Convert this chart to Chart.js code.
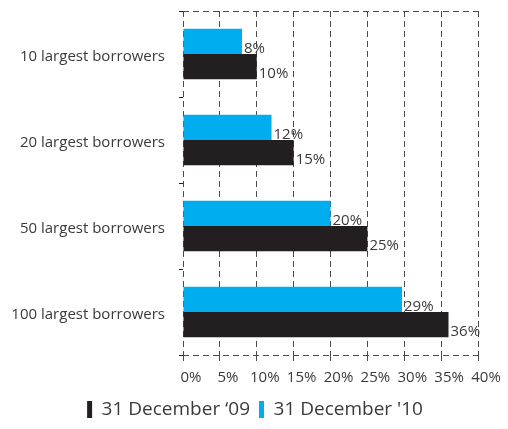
<!DOCTYPE html>
<html>
<head>
<meta charset="utf-8">
<script src="https://cdn.jsdelivr.net/npm/chart.js@4"></script>
<style>
  html, body { margin: 0; padding: 0; background: #fff; }
  #wrap { width: 508px; height: 429px; }
</style>
</head>
<body>
<div id="wrap"><canvas id="chart" width="508" height="429"></canvas></div>
<script>
// data
const categories = ['10 largest borrowers', '20 largest borrowers', '50 largest borrowers', '100 largest borrowers'];
const seriesNames = ['31 December \u201809', "31 December '10"];
const values09 = [10, 15, 25, 36];
const values10 = [8, 12, 20, 29.7];
const labels09 = ['10%', '15%', '25%', '36%'];
const labels10 = ['8%', '12%', '20%', '29%'];
const xTicks = [0, 5, 10, 15, 20, 25, 30, 35, 40];

const FONT = '"Open Sans", Lato, sans-serif';
const TEXT = '#3a3a3a';
const GRID = '#4a4a4a';
const DASH = [6, 4];

// value labels sit just right of each bar, near its lower edge
const barLabels = {
  id: 'barLabels',
  afterDatasetsDraw(chart) {
    const ctx = chart.ctx;
    ctx.save();
    ctx.font = '15px ' + FONT;
    ctx.fillStyle = TEXT;
    ctx.textAlign = 'left';
    ctx.textBaseline = 'alphabetic';
    chart.data.datasets.forEach((ds, di) => {
      chart.getDatasetMeta(di).data.forEach((bar, i) => {
        ctx.fillText(ds.valueLabels[i], bar.x + 2, bar.y + bar.height / 2 - 1);
      });
    });
    ctx.restore();
  }
};

const noPad = s => { s.paddingTop = 0; s.paddingBottom = 0; s.paddingLeft = 0; s.paddingRight = 0; };

new Chart(document.getElementById('chart'), {
  type: 'bar',
  data: {
    labels: categories,
    datasets: [
      { label: seriesNames[1], data: values10, valueLabels: labels10, backgroundColor: '#00aeef' },
      { label: seriesNames[0], data: values09, valueLabels: labels09, backgroundColor: '#231f20' }
    ]
  },
  options: {
    indexAxis: 'y',
    responsive: false,
    animation: false,
    layout: { padding: { top: 11, right: 0, left: 2, bottom: 0 } },
    datasets: { bar: { barPercentage: 1, categoryPercentage: 0.585 } },
    scales: {
      x: {
        min: 0, max: 40,
        afterBuildTicks: s => { s.ticks = xTicks.map(v => ({ value: v })); },
        afterFit: s => { s.height = 36; noPad(s); },
        border: { display: false, dash: DASH },
        grid: { color: GRID, lineWidth: 1, tickLength: 10, tickColor: GRID, tickBorderDash: DASH },
        ticks: { padding: 4, labelOffset: 8, color: TEXT, font: { family: FONT, size: 15 }, callback: v => v + '%' }
      },
      y: {
        afterFit: s => { s.width = 181; noPad(s); },
        border: { display: false, dash: DASH },
        grid: {
          offset: true,
          color: c => (c.type !== 'tick' || c.index === 0) ? GRID : 'rgba(0,0,0,0)',
          tickLength: 4, tickColor: '#222'
        },
        ticks: { padding: 14, labelOffset: 3, color: TEXT, font: { family: FONT, size: 15 } }
      },
      // empty strip on the right, leaves room for the last tick label
      yRight: {
        axis: 'y',
        position: 'right',
        afterFit: s => { s.width = 30; noPad(s); },
        border: { display: false },
        grid: { display: false },
        ticks: { display: false }
      }
    },
    plugins: {
      tooltip: { enabled: false },
      legend: {
        position: 'bottom',
        reverse: true,
        labels: { boxWidth: 5, boxHeight: 17, padding: 9, color: TEXT, font: { family: FONT, size: 19 } }
      }
    }
  },
  plugins: [barLabels]
});
</script>
</body>
</html>
